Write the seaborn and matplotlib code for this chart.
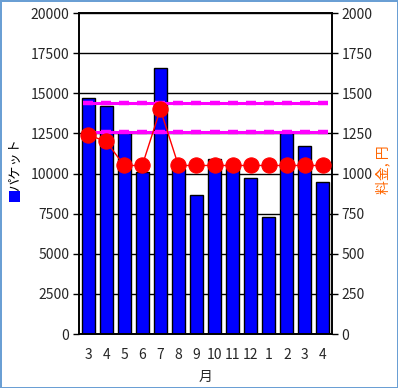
import matplotlib
matplotlib.use("Agg")
import matplotlib.pyplot as plt
import seaborn as sns
import numpy as np
import pandas as pd

months = ["3", "4", "5", "6", "7", "8", "9", "10", "11", "12", "1", "2", "3", "4"]
packets = [14700, 14200, 12500, 10100, 16600, 10300, 8650, 10900, 10350, 9750, 7300, 12500, 11700, 9450]
fees = [1240, 1200, 1050, 1050, 1400, 1050, 1050, 1050, 1050, 1050, 1050, 1050, 1050, 1050]
ref_levels = [1440, 1260]

sns.set_style("white")
plt.rcParams['font.family'] = ['Noto Sans CJK JP', 'DejaVu Sans']

df = pd.DataFrame({"idx": np.arange(len(months)), "packets": packets, "fees": fees})

fig = plt.figure(figsize=(3.98, 3.88), dpi=100)
fig.patch.set_facecolor("white")
fig.patch.set_edgecolor("#6A9FD4")
fig.patch.set_linewidth(2)
ax = fig.add_axes([79/398, 1-334/388, (332-79)/398, (334-13)/388])

sns.barplot(data=df, x="idx", y="packets", ax=ax, color="#0000FF", saturation=1,
            width=0.72, edgecolor="black", linewidth=1, zorder=2)
ax.set_ylim(0, 20000)
ax.set_yticks(np.arange(0, 20001, 2500))
ax.yaxis.grid(True, color="black", linewidth=1)
ax.set_axisbelow(True)
ax.set_xticks(np.arange(len(months)))
ax.set_xticklabels(months, fontsize=10)
ax.set_xticks(np.arange(len(months)+1) - 0.5, minor=True)
ax.tick_params(axis="x", which="major", length=0, pad=10)
ax.tick_params(axis="x", which="minor", direction="in", length=3, width=1, color="black")
ax.tick_params(axis="y", direction="out", length=4, width=1, color="black", labelsize=10, pad=3)
ax.set_xlim(-0.5, len(months) - 0.5)
ax.set_xlabel("月", fontsize=10, labelpad=6)
ax.set_ylabel("")
for s in ax.spines.values():
    s.set_color("black")
    s.set_linewidth(1.2)

ax2 = ax.twinx()
xs = df["idx"].to_numpy()
for lvl in ref_levels:
    ax2.plot(xs, [lvl] * len(xs), color="#FF00FF", linewidth=2.2, zorder=3,
             marker="_", markersize=7, markeredgewidth=3.2)
sns.lineplot(data=df, x="idx", y="fees", ax=ax2, color="#FF0000", linewidth=1,
             marker="o", markersize=11, markeredgecolor="#FF0000", zorder=4)
ax2.set_ylim(0, 2000)
ax2.set_yticks(np.arange(0, 2001, 250))
ax2.tick_params(axis="y", direction="out", length=4, width=1, color="black", labelsize=10, pad=3)
ax2.set_ylabel("")
ax2.set_xlim(-0.5, len(months) - 0.5)
for s in ax2.spines.values():
    s.set_color("black")
    s.set_linewidth(1.2)

fig.text(383/398, 1-170/388, "料金, 円", rotation=90, color="#FF6600", fontsize=10,
         ha="center", va="center")
fig.text(15/398, 1-164/388, "パケット", rotation=90, color="black", fontsize=9.5,
         ha="center", va="center")
fig.patches.append(plt.Rectangle((9/398, 1-202/388), 11/398, 11/388, transform=fig.transFigure,
                                 facecolor="#0000FF", edgecolor="none"))

fig.savefig("out.png", dpi=100)
